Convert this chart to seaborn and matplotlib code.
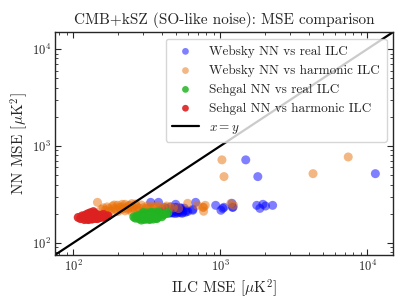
import numpy as np
import pandas as pd
import matplotlib
matplotlib.use("Agg")
import matplotlib.pyplot as plt
import seaborn as sns

# ---- data ----
websky_real_x = [380, 395, 405, 415, 425, 435, 445, 455, 465, 475, 485, 495, 505, 515, 525, 540, 555, 570, 585, 600,
                 410, 430, 450, 470, 490, 510, 530, 550, 420, 460, 500, 540,
                 336, 380, 497, 535, 580, 650, 680, 650, 930, 1010, 1040, 1060, 1200, 1210, 1220, 1490, 1770, 1800,
                 1860, 1950, 2030, 2270, 11350]
websky_real_y = [215, 208, 222, 212, 205, 226, 215, 210, 220, 206, 230, 214, 209, 224, 212, 218, 207, 228, 216, 211,
                 200, 203, 202, 204, 201, 203, 205, 202, 232, 235, 233, 230,
                 262, 262, 250, 227, 207, 217, 262, 222, 244, 217, 227, 233, 256, 233, 233, 719, 244, 483,
                 227, 250, 240, 244, 518]

websky_harm_x = [146, 155, 160, 165, 170, 175, 180, 185, 190, 195, 200, 205, 210, 215, 220, 225, 230, 235, 240, 245,
                 250, 255, 260, 270, 280, 290, 300, 310, 320, 330, 340, 350, 360, 375, 390, 410, 430, 455, 480, 520,
                 175, 200, 225, 250, 275, 300, 190, 215, 240, 265,
                 600, 700, 770, 770, 790, 760, 1180, 1230, 1026, 1060, 4275, 7420]
websky_harm_y = [262, 222, 230, 218, 235, 226, 214, 240, 228, 221, 245, 232, 219, 236, 226, 250, 230, 222, 241, 228,
                 254, 233, 224, 238, 229, 246, 231, 225, 242, 233, 226, 237, 230, 244, 232, 228, 240, 235, 230, 226,
                 212, 210, 214, 209, 215, 212, 246, 250, 244, 252,
                 256, 244, 233, 212, 244, 233, 256, 244, 719, 483, 518, 770]

sehgal_real_x = [258, 265, 272, 280, 285, 290, 295, 300, 305, 310, 315, 320, 325, 330, 335, 340, 345, 350, 355, 360,
                 365, 370, 375, 380, 390, 400, 410, 425, 440, 290, 310, 330, 350, 370, 300, 320, 340, 360, 380, 395]
sehgal_real_y = [185, 180, 190, 178, 195, 182, 188, 176, 200, 185, 192, 180, 197, 186, 178, 203, 190, 183, 196, 187,
                 192, 181, 199, 188, 193, 186, 195, 200, 205, 172, 175, 174, 176, 178, 206, 204, 207, 205, 208, 198]

sehgal_harm_x = [108, 112, 115, 118, 120, 122, 124, 125, 126, 128, 129, 130, 131, 132, 133, 134, 135, 136, 137, 138,
                 140, 141, 142, 143, 145, 147, 148, 150, 152, 155, 158, 160, 163, 167, 172, 119, 127, 139, 146, 134]
sehgal_harm_y = [183, 178, 190, 186, 181, 195, 188, 176, 200, 184, 192, 180, 205, 187, 178, 196, 183, 190, 210, 181,
                 186, 199, 179, 192, 185, 188, 194, 182, 189, 184, 187, 197, 183, 186, 190, 174, 174, 202, 178, 176]

labels = ["Websky NN vs real ILC", "Websky NN vs harmonic ILC",
          "Sehgal NN vs real ILC", "Sehgal NN vs harmonic ILC"]
series = [(websky_real_x, websky_real_y), (websky_harm_x, websky_harm_y),
          (sehgal_real_x, sehgal_real_y), (sehgal_harm_x, sehgal_harm_y)]
colors = ["#0000ff", "#e8710a", "#22b422", "#dd2020"]
alphas = [0.5, 0.5, 0.85, 0.9]

# ---- style ----
sns.set_style("ticks", {"xtick.direction": "in", "ytick.direction": "in"})
plt.rcParams.update({
    "font.family": "serif",
    "font.serif": ["cmr10"],
    "mathtext.fontset": "cm",
    "axes.formatter.use_mathtext": True,
    "xtick.top": True, "ytick.right": True,
    "xtick.direction": "in", "ytick.direction": "in",
    "xtick.minor.visible": True, "ytick.minor.visible": True,
    "axes.linewidth": 1.0,
})

fig = plt.figure(figsize=(4.07, 3.05), dpi=100)
ax = fig.add_axes([0.135, 0.164, 0.831, 0.731])

for (x, y), lab, c, a in zip(series, labels, colors, alphas):
    df = pd.DataFrame({"x": x, "y": y})
    sns.scatterplot(data=df, x="x", y="y", ax=ax, color=c, alpha=a, s=42,
                    edgecolor="none", label=lab)

ax.set_xscale("log")
ax.set_yscale("log")
lo, hi = 75, 15000
ax.set_xlim(lo, hi)
ax.set_ylim(lo, hi)
ax.plot([lo, hi], [lo, hi], color="black", lw=1.6, label=r"$x=y$")

ax.set_xlabel(r"ILC MSE [$\mu$K$^2$]", fontsize=11, labelpad=2)
ax.set_ylabel(r"NN MSE [$\mu$K$^2$]", fontsize=11, labelpad=1)
ax.set_title("CMB+kSZ (SO-like noise): MSE comparison", fontsize=11)
ax.tick_params(which="both", direction="in", top=True, right=True, labelsize=9)
ax.tick_params(which="major", length=4, pad=3)
ax.tick_params(which="minor", length=2)

ax.legend(loc="upper right", fontsize=9.5, framealpha=0.8, markerscale=0.75,
          handlelength=2.0, borderpad=0.5)

fig.savefig("out.png", dpi=100)
